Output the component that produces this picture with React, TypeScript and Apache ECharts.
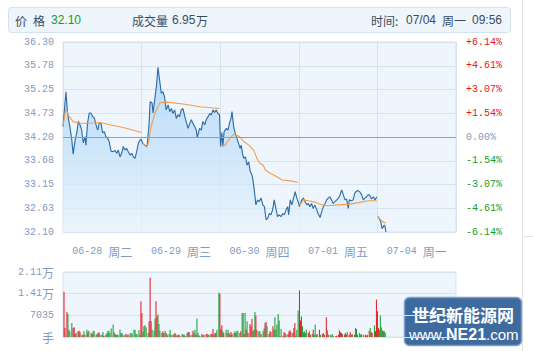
import { useEffect, useRef } from 'react';
import * as echarts from 'echarts';

// ---------- data ----------
const DAY_LABELS = ['06-28 周二', '06-29 周三', '06-30 周四', '07-01 周五', '07-04 周一'];
const PRICE_LABELS = ['32.10', '32.63', '33.15', '33.68', '34.20', '34.73', '35.25', '35.78', '36.30'];
const PCT_LABELS = ['-6.14%', '-4.61%', '-3.07%', '-1.54%', '0.00%', '+1.54%', '+3.07%', '+4.61%', '+6.14%'];
const VOL_LABELS = ['手', '7035', '1.41万', '2.11万'];
const PRICE_MIN = 32.1;
const PRICE_MAX = 36.3;
const PRE_CLOSE = 34.2;
const VOL_MAX = 21105;
const TOTAL_MINUTES = 1200;
const DAY_MINUTES = 240;
const PRICE_BREAK_AT = [960];

const HEADER_PRICE = '32.10';
const HEADER_VOL = '6.95';
const HEADER_DATE = '07/04';
const HEADER_WEEK = '周一';
const HEADER_TIME = '09:56';

// minute index (0..1199) and price
const PRICE_T = [
  0, 9, 13, 17, 21, 27, 31, 37, 42, 47, 52, 57, 62, 67, 70, 75, 80, 85, 91, 96,
  101, 106, 111, 116, 121, 126, 131, 136, 141, 147, 154, 159, 164, 169, 174, 179, 184, 189, 194, 199,
  205, 210, 215, 220, 225, 230, 235, 239,
  243, 250, 257, 263, 266, 272, 275, 280, 285, 290, 295, 300, 305, 310, 315, 321, 326, 331, 336, 341,
  346, 351, 356, 361, 366, 372, 376, 382, 387, 392, 397, 402, 407, 410, 417, 422, 427, 433, 437, 443,
  448, 453, 458, 463, 468, 473, 478,
  481, 485, 488, 492, 499, 504, 508, 513, 516, 521, 526, 531, 536, 541, 544, 549, 552, 557, 562, 567, 572,
  577, 580, 584, 589, 594, 599, 605, 610, 615, 620, 625, 630, 635, 640, 645, 650, 655, 660, 666, 671,
  676, 681, 686, 689, 694, 699, 704, 709, 714, 718,
  722, 729, 734, 739, 744, 749, 754, 759, 764, 769, 775, 779, 785, 790, 795, 800, 805, 810, 815, 820,
  825, 830, 836, 841, 846, 851, 856, 861, 866, 871, 874, 881, 886, 891, 897, 902, 907, 912, 917, 922,
  927, 932, 937, 942, 947, 953, 958,
  961, 964, 970, 974, 977, 980, 983, 986,
];
const PRICE_V = [
  34.43, 35.2, 34.8, 34.58, 34.43, 34.13, 33.82, 34.13, 34.29, 34.54, 34.47, 34.35, 34.07, 34.21, 34.02, 34.51, 34.73, 34.73, 34.65, 34.61,
  34.47, 34.35, 34.51, 34.51, 34.29, 34.32, 34.21, 34.17, 34.1, 33.88, 33.88, 33.9, 33.84, 33.91, 33.76, 33.84, 33.99, 33.91, 33.95, 33.88,
  33.8, 33.84, 33.76, 33.73, 33.88, 34.06, 34.13, 34.15,
  34.06, 34.02, 34.0, 34.51, 34.98, 34.95, 34.73, 35.02, 35.31, 35.74, 35.46, 35.17, 35.2, 35.09, 34.8, 34.91, 34.76, 34.83, 34.72, 34.8,
  34.61, 34.69, 34.65, 34.8, 34.83, 34.65, 34.54, 34.39, 34.5, 34.58, 34.5, 34.43, 34.35, 34.19, 34.39, 34.35, 34.54, 34.47, 34.58, 34.65,
  34.72, 34.69, 34.8, 34.74, 34.8, 34.72, 34.69,
  33.99, 34.3, 33.99, 34.32, 34.39, 34.35, 34.5, 34.61, 34.76, 34.43, 34.28, 34.17, 34.06, 33.95, 34.02, 33.8, 33.73, 33.76, 33.58, 33.65, 33.43,
  33.36, 33.25, 33.03, 32.7, 32.81, 32.77, 32.85, 32.7, 32.66, 32.37, 32.4, 32.51, 32.48, 32.59, 32.81, 32.62, 32.44, 32.48, 32.44, 32.51,
  32.48, 32.59, 32.66, 32.48, 32.81, 32.7, 32.85, 32.99, 32.85, 32.77,
  32.66, 32.81, 32.85, 32.77, 32.7, 32.73, 32.66, 32.73, 32.62, 32.7, 32.59, 32.51, 32.42, 32.55, 32.66, 32.73, 32.81, 32.85, 32.88, 32.81,
  32.73, 32.77, 32.81, 32.85, 32.92, 33.03, 32.92, 32.81, 32.83, 32.62, 32.81, 32.79, 32.81, 32.96, 33.01, 33.01, 32.98, 32.92, 32.81, 32.85,
  32.88, 32.93, 32.9, 32.83, 32.88, 32.81, 32.88,
  32.44, 32.42, 32.33, 32.18, 32.2, 32.25, 32.23, 32.1,
];

// average price line
const AVG_T = [
  0, 8, 11, 15, 31, 50, 72, 113, 143, 184, 215, 239,
  243, 256, 262, 268, 281, 296, 317, 367, 418, 478,
  481, 495, 505, 521, 531, 540, 552, 567, 582, 592, 601, 611, 618, 633, 653, 669, 694, 718,
  722, 734, 749, 769, 790, 810, 841, 871, 902, 932, 958,
  961, 970, 980, 986,
];
const AVG_V = [
  34.44, 34.8, 34.8, 34.69, 34.54, 34.51, 34.5, 34.52, 34.47, 34.41, 34.35, 34.3,
  34.06, 33.97, 34.1, 34.4, 34.73, 34.96, 34.97, 34.93, 34.87, 34.83,
  33.99, 34.02, 34.13, 34.26, 34.24, 34.2, 34.1, 34.02, 33.91, 33.73, 33.62, 33.58, 33.47, 33.4, 33.32, 33.25, 33.23, 33.2,
  32.68, 32.81, 32.79, 32.76, 32.7, 32.68, 32.7, 32.71, 32.75, 32.79, 32.79,
  32.44, 32.37, 32.31, 32.3,
];

// volume (minute, shares, 1 = up/red, 0 = down/green)
const VOL_T = [
  3, 6, 12, 15, 18, 21, 27, 31, 34, 37, 40, 46, 49, 52, 58, 61, 64, 67, 73, 76, 79, 86, 89, 92, 95,
  101, 104, 107, 110, 113, 119, 122, 125, 131, 134, 137, 140, 143, 147, 153, 156, 159, 162, 165, 168,
  174, 177, 180, 183, 189, 192, 196, 199, 205, 208, 211, 217, 220, 223, 226, 232, 235, 238, 241, 244,
  247, 250, 254, 260, 263, 266, 269, 272, 278, 281, 284, 287, 290, 293, 296, 302, 305, 308, 312, 315,
  318, 324, 327, 330, 336, 339, 342, 345, 348, 351, 354, 357, 364, 367, 370, 373, 379, 382, 385, 388,
  394, 397, 400, 403, 406, 409, 412, 415, 418, 424, 427, 430, 437, 440, 443, 446, 452, 455, 458, 461,
  464, 467, 470, 476, 479, 482, 485, 488, 491,
  498, 501, 504, 507, 510, 513, 516, 522, 525, 528, 531, 534, 540, 543, 547, 550, 553, 556, 559, 562,
  565, 571, 574, 577, 580, 583, 586, 589, 592, 598, 601, 605, 611, 614, 617, 620, 623, 629, 632, 635,
  641, 644, 647, 650, 653, 657, 660, 663, 666, 672, 675, 678, 681, 687, 690, 693, 696, 702, 705, 708,
  711, 714, 718, 722, 725, 728, 731, 734, 737, 740, 743, 749, 752, 755, 761, 764, 767, 770, 773, 776,
  783, 786, 792, 795, 798, 804, 807, 810, 816, 819, 822, 825, 832, 835, 841, 844, 847, 850, 853, 859,
  862, 865, 868, 874, 877, 880, 883, 890, 893, 896, 899, 905, 908, 911, 917, 923, 926, 929, 935, 938,
  941, 944, 951, 954, 957, 960, 963, 966, 969, 972, 975, 978, 981, 984,
];
const VOL_V = [
  14675, 2935, 8150, 7500, 2390, 1850, 4565, 2935, 3150, 980, 1300, 1850, 2065, 1520, 760, 760, 1850, 760, 2390, 1630, 2065, 1300, 980, 2065, 1850,
  760, 980, 1300, 1520, 760, 760, 1630, 435, 760, 1300, 1850, 2065, 1300, 2720, 4020, 1520, 980, 760, 760, 760,
  2390, 1300, 1300, 760, 545, 980, 760, 760, 1300, 980, 1300, 2390, 2390, 980, 980, 2280, 760, 11630, 7830, 1630,
  3480, 3800, 3150, 1300, 5110, 19240, 5110, 2390, 2065, 5870, 11630, 6740, 7280, 4240, 2065, 1300, 1850, 1300, 2065, 1300,
  760, 980, 2390, 760, 760, 980, 1300, 760, 220, 760, 760, 435, 980, 760, 760, 435, 1300, 1630, 1630, 545,
  760, 2065, 1300, 2390, 760, 5980, 1300, 545, 220, 980, 545, 760, 980, 980, 760, 760, 980, 980, 2610, 760,
  1300, 1300, 2390, 14350, 14020, 2610, 3800, 1850, 1300,
  2390, 1300, 2390, 1300, 760, 1630, 980, 1300, 1850, 1300, 1850, 2065, 1300, 1850, 7830, 7830, 980, 7830, 2390, 5110,
  1300, 4240, 3480, 5870, 1850, 2390, 8150, 6960, 2390, 1850, 1850, 980, 1850, 2720, 4565, 4890, 3480, 980, 1850, 1630,
  3480, 2390, 6410, 2390, 4020, 7500, 5330, 220, 2610, 435, 1520, 1300, 760, 980, 1850, 2175, 1520, 1300, 2935, 4565,
  435, 2390, 8590, 15110, 5330, 6630, 3480, 1520, 1850, 1300, 2390, 1300, 1850, 760, 980, 2390, 760, 4020, 760, 980,
  2390, 760, 980, 1300, 760, 6410, 2175, 760, 760, 435, 980, 435, 220, 435, 760, 2175, 1520, 1300, 980, 760,
  1300, 760, 1630, 760, 1520, 760, 980, 760, 2935, 2610, 760, 1300, 760, 980, 760, 760, 435, 760, 2065, 2935,
  1630, 1300, 3700, 1850, 12170, 8370, 2935, 2390, 6960, 3150, 2175, 1850, 1850, 1300,
];
const VOL_UP = [
  1, 1, 1, 0, 0, 0, 0, 1, 1, 1, 0, 1, 1, 1, 1, 0, 0, 1, 0, 1, 0, 1, 1, 0, 0,
  0, 0, 1, 1, 0, 1, 0, 1, 1, 0, 0, 0, 0, 0, 0, 0, 1, 0, 0, 0,
  0, 0, 0, 0, 1, 1, 0, 1, 0, 0, 0, 0, 0, 0, 0, 0, 1, 1, 1, 0,
  0, 0, 0, 0, 1, 1, 1, 0, 0, 0, 1, 1, 0, 0, 0, 0, 1, 1, 0, 0,
  1, 0, 0, 0, 1, 0, 1, 1, 0, 1, 1, 1, 0, 0, 0, 1, 0, 1, 1, 0,
  1, 1, 0, 0, 1, 0, 0, 0, 1, 1, 0, 1, 1, 1, 0, 0, 1, 1, 1, 0,
  1, 1, 0, 0, 1, 1, 1, 0, 1,
  0, 0, 0, 1, 0, 1, 1, 0, 0, 1, 0, 0, 0, 1, 0, 0, 1, 0, 1, 0,
  1, 1, 1, 1, 0, 1, 0, 1, 1, 0, 0, 1, 0, 0, 1, 1, 0, 0, 1, 1,
  1, 1, 0, 0, 0, 0, 0, 0, 0, 1, 1, 1, 0, 1, 1, 1, 1, 1, 1, 1,
  0, 0, 0, 1, 1, 1, 0, 0, 0, 0, 0, 1, 1, 1, 0, 1, 0, 0, 0, 1,
  1, 0, 1, 0, 1, 1, 0, 1, 0, 0, 0, 0, 0, 1, 1, 1, 1, 1, 0, 1,
  1, 1, 0, 1, 1, 0, 1, 0, 0, 0, 1, 0, 0, 0, 0, 1, 1, 1, 1, 0,
  1, 1, 0, 1, 1, 1, 1, 0, 0, 0, 0, 1, 0, 0,
];

// ---------- styles ----------
const LABEL_COLOR = '#7f9bc1';
const GRID_COLOR = '#d6e3ef';
const PLOT_BG = '#eef5fc';
const RED = '#e3151e';
const GREEN = '#169b2a';
const HEADER_COLOR = '#3a4c62';
const MONO = '"Liberation Mono", "DejaVu Sans Mono", monospace';
const CJK = '"Noto Sans CJK SC", sans-serif';
const SANS = '"Liberation Sans", Arial, sans-serif';

const richify = (s: string) =>
  s
    .split(/([^\x00-\x7f]+)/)
    .filter((p) => p.length > 0)
    .map((p) => (/[^\x00-\x7f]/.test(p) ? `{c|${p}}` : `{d|${p}}`))
    .join('');

const labelRich = (color: string) => ({
  d: { fontFamily: MONO, fontSize: 10, color },
  c: { fontFamily: CJK, fontSize: 12, color },
});

const headerText = (text: string, x: number, font: string, fill: string = HEADER_COLOR) => ({
  type: 'text',
  x,
  y: 20,
  style: { text, font, fill, verticalAlign: 'middle' },
});

export default function App() {
  const ref = useRef<HTMLDivElement>(null);

  useEffect(() => {
    if (!ref.current) return;
    const chart = echarts.init(ref.current, null, { renderer: 'svg' });

    const priceData: any[] = [];
    PRICE_T.forEach((t, i) => {
      if (i > 0 && PRICE_BREAK_AT.some((b) => PRICE_T[i - 1] < b && t >= b)) {
        priceData.push([(PRICE_T[i - 1] + t) / 2, '-']);
      }
      priceData.push([t, PRICE_V[i]]);
    });
    const avgData: any[] = [];
    AVG_T.forEach((t, i) => {
      if (i > 0 && Math.floor(AVG_T[i - 1] / DAY_MINUTES) !== Math.floor(t / DAY_MINUTES)) {
        avgData.push([(AVG_T[i - 1] + t) / 2, '-']);
      }
      avgData.push([t, AVG_V[i]]);
    });
    const volData = VOL_T.map((t, i) => ({
      value: [t, VOL_V[i]],
      itemStyle: { color: VOL_UP[i] ? RED : GREEN },
    }));

    const option: any = {
      animation: false,
      grid: [
        { left: 63, top: 42, width: 393, height: 190, show: true, backgroundColor: PLOT_BG, borderColor: GRID_COLOR, borderWidth: 1 },
        { left: 63, top: 272, width: 393, height: 65, show: true, backgroundColor: PLOT_BG, borderColor: GRID_COLOR, borderWidth: 1 },
      ],
      xAxis: [
        {
          type: 'value', gridIndex: 0, min: 0, max: TOTAL_MINUTES, interval: DAY_MINUTES,
          axisLabel: { show: false }, axisLine: { show: false }, axisTick: { show: false },
          splitLine: { show: true, lineStyle: { color: GRID_COLOR, width: 1 } },
        },
        {
          type: 'category', gridIndex: 0, data: DAY_LABELS, boundaryGap: true, position: 'bottom',
          axisLine: { show: false }, axisTick: { show: false }, splitLine: { show: false },
          axisLabel: { interval: 0, margin: 13, formatter: (v: string) => richify(v), rich: labelRich(LABEL_COLOR) },
        },
        {
          type: 'value', gridIndex: 1, min: 0, max: TOTAL_MINUTES, show: false,
        },
      ],
      yAxis: [
        { type: 'value', gridIndex: 0, min: PRICE_MIN, max: PRICE_MAX, show: false },
        {
          type: 'value', gridIndex: 0, min: 0, max: PRICE_LABELS.length - 1, interval: 1, position: 'left',
          axisLine: { show: false }, axisTick: { show: false },
          axisLabel: { margin: 9, fontFamily: MONO, fontSize: 10, color: LABEL_COLOR, formatter: (v: number) => PRICE_LABELS[Math.round(v)] },
          splitLine: { show: true, lineStyle: { color: GRID_COLOR, width: 1 } },
        },
        {
          type: 'value', gridIndex: 0, min: 0, max: PCT_LABELS.length - 1, interval: 1, position: 'right',
          axisLine: { show: false }, axisTick: { show: false }, splitLine: { show: false },
          axisLabel: {
            margin: 10, fontFamily: MONO, fontSize: 10,
            formatter: (v: number) => PCT_LABELS[Math.round(v)],
            color: (v: any) => {
              const n = Math.round(Number(v));
              const mid = (PCT_LABELS.length - 1) / 2;
              return n > mid ? RED : n < mid ? GREEN : LABEL_COLOR;
            },
          },
        },
        { type: 'value', gridIndex: 1, min: 0, max: VOL_MAX, show: false },
        {
          type: 'value', gridIndex: 1, min: 0, max: VOL_LABELS.length - 1, interval: 1, position: 'left',
          axisLine: { show: false }, axisTick: { show: false },
          axisLabel: { margin: 9, formatter: (v: number) => richify(VOL_LABELS[Math.round(v)]), rich: labelRich(LABEL_COLOR) },
          splitLine: { show: true, lineStyle: { color: GRID_COLOR, width: 1 } },
        },
      ],
      series: [
        {
          type: 'line', xAxisIndex: 0, yAxisIndex: 0, data: priceData, showSymbol: false, connectNulls: false,
          lineStyle: { color: '#2a6aa5', width: 1.1 },
          areaStyle: {
            origin: 'start',
            color: new echarts.graphic.LinearGradient(0, 0, 0, 1, [
              { offset: 0, color: '#a3d0f6' },
              { offset: 0.5, color: '#c2e0fa' },
              { offset: 1, color: '#e9f4fd' },
            ]),
          },
          markLine: {
            silent: true, symbol: 'none', label: { show: false },
            lineStyle: { color: '#6ea8db', width: 1, type: 'solid' },
            data: [{ yAxis: PRE_CLOSE }],
          },
          z: 3,
        },
        {
          type: 'line', xAxisIndex: 0, yAxisIndex: 0, data: avgData, showSymbol: false, connectNulls: false,
          lineStyle: { color: '#f0a04c', width: 1.1 }, z: 4,
        },
        {
          type: 'bar', xAxisIndex: 2, yAxisIndex: 3, data: volData, barWidth: 1, barGap: '-100%',
        },
      ],
      graphic: [
        {
          type: 'rect', shape: { x: 8.5, y: 7.5, width: 502, height: 25, r: 3 },
          style: { fill: PLOT_BG, stroke: '#d3e2ef', lineWidth: 1 },
        },
        headerText('价', 15, `12px ${CJK}`),
        headerText('格', 33, `12px ${CJK}`),
        headerText(HEADER_PRICE, 51, `12px ${SANS}`, GREEN),
        headerText('成交量', 132, `12px ${CJK}`),
        headerText(HEADER_VOL, 172, `12px ${SANS}`),
        headerText('万', 196, `12px ${CJK}`),
        headerText('时间:', 371, `12px ${CJK}`),
        headerText(HEADER_DATE, 406, `12px ${SANS}`),
        headerText(HEADER_WEEK, 442, `12px ${CJK}`),
        headerText(HEADER_TIME, 472, `12px ${SANS}`),
        { type: 'line', shape: { x1: 522.5, y1: 0, x2: 522.5, y2: 351 }, style: { stroke: '#e2e2e2', lineWidth: 1 } },
        { type: 'line', shape: { x1: 523, y1: 236.5, x2: 533, y2: 236.5 }, style: { stroke: '#e2e2e2', lineWidth: 1 } },
        {
          type: 'group', z: 100,
          children: [
            {
              type: 'rect', shape: { x: 404.5, y: 297.5, width: 117, height: 48, r: 5 },
              style: { fill: '#3d6b9f', stroke: '#7d9dc3', lineWidth: 1.5 },
            },
            {
              type: 'text', x: 463, y: 314,
              style: { text: '世纪新能源网', font: `bold 17px ${CJK}`, fill: '#ffffff', align: 'center', verticalAlign: 'middle' },
            },
            {
              type: 'text', x: 409, y: 334,
              style: { text: 'www.', font: `15px ${SANS}`, fill: '#ffffff', verticalAlign: 'middle' },
            },
            {
              type: 'text', x: 446, y: 334,
              style: { text: 'NE21', font: `bold 16px ${SANS}`, fill: '#ffffff', verticalAlign: 'middle' },
            },
            {
              type: 'text', x: 486, y: 334,
              style: { text: '.com', font: `15px ${SANS}`, fill: '#ffffff', verticalAlign: 'middle' },
            },
          ],
        },
      ],
    };

    chart.setOption(option);
    return () => chart.dispose();
  }, []);

  return (
    <div
      ref={ref}
      style={{ position: 'absolute', left: 0, top: 0, width: 533, height: 351, background: '#ffffff' }}
    />
  );
}
